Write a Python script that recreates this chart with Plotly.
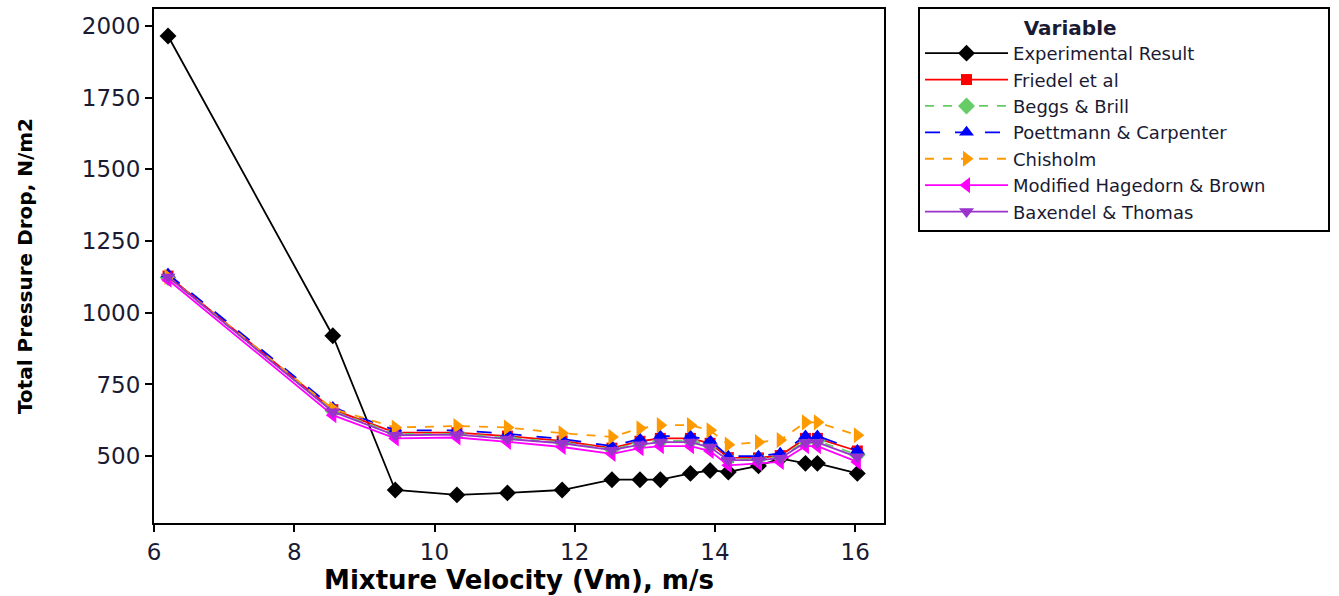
import plotly.graph_objects as go

velocity = [6.2, 8.55, 9.44, 10.32, 11.04, 11.82, 12.53, 12.93, 13.22, 13.65, 13.93, 14.19, 14.62, 14.93, 15.29, 15.46, 16.03]

experimental = [1965, 920, 382, 365, 372, 382, 418, 418, 418, 440, 450, 445, 466, 492, 475, 475, 440]
friedel = [1128, 662, 582, 582, 570, 553, 528, 552, 562, 562, 545, 495, 494, 502, 562, 562, 518]
beggs_brill = [1123, 658, 578, 578, 565, 548, 524, 545, 553, 553, 538, 490, 490, 497, 553, 553, 505]
poettmann = [1135, 670, 590, 590, 578, 560, 535, 560, 570, 570, 555, 500, 500, 510, 570, 570, 520]
chisholm = [1125, 665, 600, 605, 600, 580, 567, 597, 608, 608, 590, 540, 549, 556, 618, 618, 573]
hagedorn = [1115, 643, 562, 565, 550, 532, 508, 528, 535, 535, 518, 468, 475, 480, 535, 535, 480]
baxendel = [1125, 655, 573, 575, 560, 545, 521, 540, 549, 549, 531, 486, 486, 493, 548, 548, 497]

series = [
    ("Experimental Result", experimental, "black", "diamond", "solid", 13),
    ("Friedel et al", friedel, "#FF0000", "square", "solid", 11),
    ("Beggs & Brill", beggs_brill, "#66CC66", "diamond", "dash", 13),
    ("Poettmann & Carpenter", poettmann, "#0000FF", "triangle-up", "longdash", 13),
    ("Chisholm", chisholm, "#FF9900", "triangle-right", "dash", 14),
    ("Modified Hagedorn & Brown", hagedorn, "#FF00FF", "triangle-left", "solid", 14),
    ("Baxendel & Thomas", baxendel, "#9933CC", "triangle-down", "solid", 13),
]

fig = go.Figure()
for name, vals, color, sym, dash, size in series:
    label = name + ("\u00a0" * 10 if name.startswith("Modified") else "")
    fig.add_trace(go.Scatter(
        x=velocity, y=vals, name=label, mode="lines+markers",
        line=dict(color=color, width=1.8, dash=dash),
        marker=dict(symbol=sym, size=size, color=color, line=dict(width=0)),
    ))

font_family = "DejaVu Sans, Verdana, sans-serif"

fig.update_layout(
    width=1339, height=596,
    margin=dict(l=154, r=455, t=7, b=73),
    paper_bgcolor="white", plot_bgcolor="white",
    font=dict(family=font_family, color="black", size=18),
    xaxis=dict(
        range=[6, 16.41], tickvals=[6, 8, 10, 12, 14, 16],
        showgrid=False, zeroline=False,
        showline=True, linecolor="black", linewidth=2, mirror=True,
        ticks="outside", ticklen=7, tickwidth=2, tickcolor="black",
        tickfont=dict(size=23, color="#1a1a33"),
        title=dict(text="<b>Mixture Velocity (Vm), m/s</b>", font=dict(size=26), standoff=4),
    ),
    yaxis=dict(
        range=[267, 2059], tickvals=[500, 750, 1000, 1250, 1500, 1750, 2000],
        showgrid=False, zeroline=False,
        showline=True, linecolor="black", linewidth=2, mirror=True,
        ticks="outside", ticklen=7, tickwidth=2, tickcolor="black",
        tickfont=dict(size=23, color="#1a1a33"),
        title=dict(text="<b>Total Pressure Drop, N/m2</b>", font=dict(size=20), standoff=44),
    ),
    legend=dict(
        x=1.0466, y=1.004, xanchor="left", yanchor="top",
        bordercolor="black", borderwidth=2, bgcolor="white",
        font=dict(size=18, family=font_family, color="#1a1a33"),
        title=dict(text="\u00a0" * 16 + "<b>Variable</b>", font=dict(size=20)),
        itemwidth=83, tracegroupgap=0,
    ),
)

fig.write_html("out.html")
